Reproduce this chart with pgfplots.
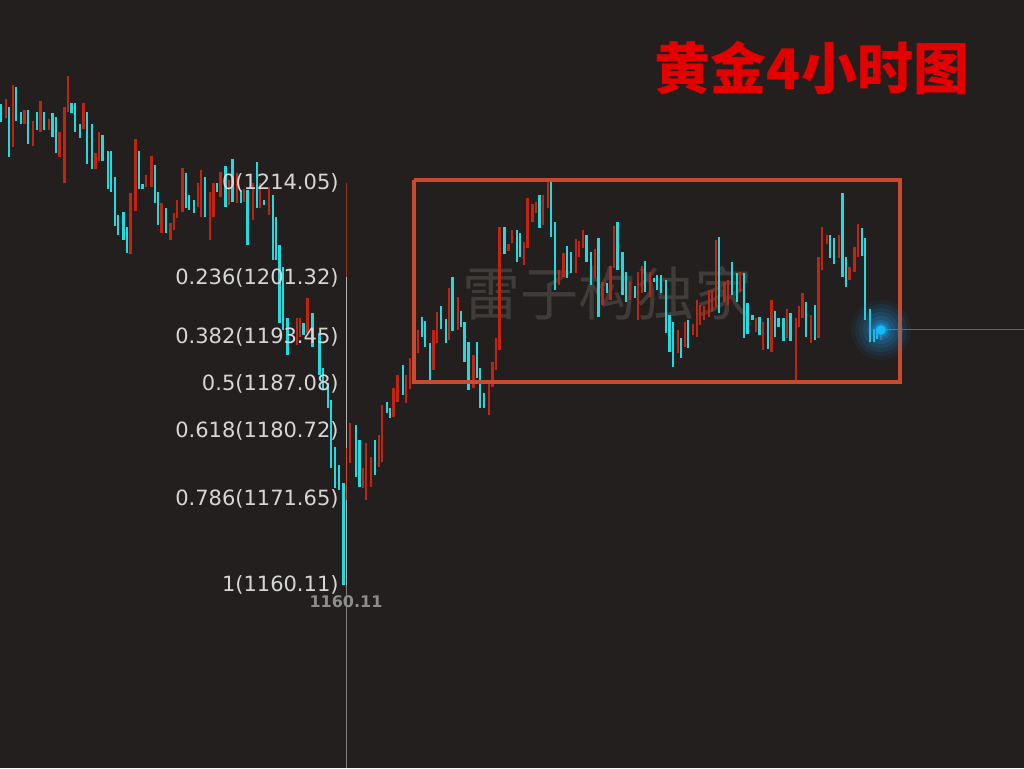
\documentclass[border=0pt]{standalone}
\usepackage{pgfplots}
\pgfplotsset{compat=1.18}
\usepackage{fontspec}
\setmainfont{DejaVu Sans}
\newfontfamily\cjk{Noto Sans CJK SC}
\definecolor{bgc}{HTML}{221F1E}
\definecolor{upbar}{HTML}{C4230F}
\definecolor{dnbar}{HTML}{1FDCE0}
\definecolor{boxc}{HTML}{C94A2E}
\definecolor{fibtxt}{HTML}{D6D6D6}
\definecolor{wmark}{HTML}{403C3A}
\definecolor{glow}{HTML}{1A9FF0}

\begin{document}
\begin{tikzpicture}
\begin{axis}[
    width=512pt, height=384pt, scale only axis,
    xmin=0, xmax=1024, ymin=1135.55, ymax=1238.61,
    hide axis,
    unbounded coords=jump,
    bar/.style={line width=1.2pt},
]
% background
\fill[bgc] (rel axis cs:0,0) rectangle (rel axis cs:1,1);

% watermark
\node[text=wmark, font=\cjk\fontsize{29}{29}\selectfont] at (axis cs:607,1199.3) {雷子构独家};

% fibonacci vertical line
\addplot[draw=black!50, line width=0.8pt] coordinates {(346.5,1160.11) (346.5,1135.55)};
\addplot[draw=black!30, line width=0.8pt] coordinates {(346.5,1201.44) (346.5,1178.50)};
\addplot[draw=black!30, line width=0.8pt] coordinates {(346.5,1171.52) (346.5,1160.11)};
\addplot[draw=boxc!75!black, line width=0.8pt] coordinates {(346.5,1214.05) (346.5,1201.44)};
\addplot[draw=boxc, line width=0.8pt] coordinates {(346.5,1178.50) (346.5,1171.52)};

% last price line
\addplot[draw=black!60, line width=0.5pt] coordinates {(884,1194.33) (1024,1194.33)};

% down bars (cyan)
\addplot[draw=dnbar, bar] coordinates {
(0.7,1222.19)(0.7,1224.61)(0.7,nan)
(9,1217.57)(9,1224.28)(9,nan)
(16,1222.40)(16,1226.97)(16,nan)
(21,1221.96)(21,1223.61)(21,nan)
(28,1219.28)(28,1223.84)(28,nan)
(36.7,1221.16)(36.7,1223.61)(36.7,nan)
(43.7,1221.16)(43.7,1223.61)(43.7,nan)
(52.3,1220.26)(52.3,1223.40)(52.3,nan)
(55.7,1218.03)(55.7,1222.86)(55.7,nan)
(71.3,1223.40)(71.3,1224.82)(71.3,nan)
(74.7,1220.93)(74.7,1224.82)(74.7,nan)
(80,1220.04)(80,1221.92)(80,nan)
(87,1216.59)(87,1223.61)(87,nan)
(92,1215.88)(92,1221.96)(92,nan)
(102.3,1217.04)(102.3,1220.49)(102.3,nan)
(107.7,1213.24)(107.7,1218.34)(107.7,nan)
(111,1212.88)(111,1218.34)(111,nan)
(114.7,1208.32)(114.7,1214.89)(114.7,nan)
(118,1207.07)(118,1209.75)(118,nan)
(123.3,1206.40)(123.3,1210.19)(123.3,nan)
(126.7,1204.69)(126.7,1208.10)(126.7,nan)
(139,1213.24)(139,1218.34)(139,nan)
(142.3,1213.24)(142.3,1213.91)(142.3,nan)
(154.7,1211.32)(154.7,1216.46)(154.7,nan)
(158,1208.41)(158,1212.88)(158,nan)
(166,1207.38)(166,1210.65)(166,nan)
(185.7,1210.65)(185.7,1215.35)(185.7,nan)
(189,1210.42)(189,1212.44)(189,nan)
(194,1209.98)(194,1211.76)(194,nan)
(204.7,1209.52)(204.7,1214.81)(204.7,nan)
(217,1212.88)(217,1214.01)(217,nan)
(225.3,1210.87)(225.3,1216.33)(225.3,nan)
(232.3,1211.54)(232.3,1217.23)(232.3,nan)
(240.7,1211.32)(240.7,1213.11)(240.7,nan)
(247.3,1205.73)(247.3,1213.11)(247.3,nan)
(256.7,1210.65)(256.7,1216.90)(256.7,nan)
(264,1211.09)(264,1211.76)(264,nan)
(272.7,1203.71)(272.7,1212.44)(272.7,nan)
(276,1203.71)(276,1209.52)(276,nan)
(279.3,1195.22)(279.3,1205.73)(279.3,nan)
(283,1194.32)(283,1202.81)(283,nan)
(287.5,1190.97)(287.5,1195.93)(287.5,nan)
(303.3,1193.65)(303.3,1195.22)(303.3,nan)
(312.3,1192.08)(312.3,1196.56)(312.3,nan)
(319.3,1188.28)(319.3,1193.88)(319.3,nan)
(322.7,1186.27)(322.7,1189.18)(322.7,nan)
(327.7,1183.81)(327.7,1187.17)(327.7,nan)
(331,1175.76)(331,1184.93)(331,nan)
(335,1173.08)(335,1178.66)(335,nan)
(338.7,1172.85)(338.7,1176.21)(338.7,nan)
(343.3,1160.11)(343.3,1173.75)(343.3,nan)
(356,1174.64)(356,1181.57)(356,nan)
(359.3,1173.30)(359.3,1179.56)(359.3,nan)
(374.7,1174.86)(374.7,1179.56)(374.7,nan)
(386.7,1183.14)(386.7,1184.70)(386.7,nan)
(390,1182.47)(390,1183.81)(390,nan)
(402.7,1185.60)(402.7,1189.62)(402.7,nan)
(421.7,1193.42)(421.7,1196.11)(421.7,nan)
(425,1192.08)(425,1195.57)(425,nan)
(430,1187.38)(430,1192.54)(430,nan)
(440.7,1194.46)(440.7,1197.54)(440.7,nan)
(445.7,1192.54)(445.7,1195.80)(445.7,nan)
(452.3,1194.19)(452.3,1201.47)(452.3,nan)
(461,1194.76)(461,1196.87)(461,nan)
(464.3,1190.07)(464.3,1195.35)(464.3,nan)
(468.3,1186.27)(468.3,1192.75)(468.3,nan)
(476.7,1187.84)(476.7,1192.75)(476.7,nan)
(480,1183.81)(480,1189.18)(480,nan)
(484,1183.81)(484,1185.83)(484,nan)
(504.3,1204.48)(504.3,1208.18)(504.3,nan)
(516.7,1203.49)(516.7,1207.74)(516.7,nan)
(520,1204.16)(520,1207.30)(520,nan)
(539.3,1208.05)(539.3,1212.44)(539.3,nan)
(551,1206.84)(551,1214.14)(551,nan)
(555,1199.69)(555,1208.77)(555,nan)
(566.7,1201.26)(566.7,1205.63)(566.7,nan)
(570.7,1201.93)(570.7,1204.83)(570.7,nan)
(586.3,1203.49)(586.3,1207.07)(586.3,nan)
(591,1200.36)(591,1204.83)(591,nan)
(598.3,1196.11)(598.3,1206.63)(598.3,nan)
(606.7,1199.25)(606.7,1200.59)(606.7,nan)
(617.3,1202.37)(617.3,1208.77)(617.3,nan)
(622.3,1199.02)(622.3,1204.83)(622.3,nan)
(626,1198.12)(626,1202.14)(626,nan)
(634.7,1198.65)(634.7,1200.23)(634.7,nan)
(645,1199.46)(645,1203.62)(645,nan)
(653.7,1200.80)(653.7,1201.26)(653.7,nan)
(657,1199.69)(657,1201.70)(657,nan)
(660.7,1199.25)(660.7,1201.70)(660.7,nan)
(665.7,1193.88)(665.7,1201.03)(665.7,nan)
(669.3,1191.41)(669.3,1196.33)(669.3,nan)
(672.7,1189.40)(672.7,1195.43)(672.7,nan)
(681,1190.60)(681,1193.21)(681,nan)
(688,1191.87)(688,1195.66)(688,nan)
(719,1196.67)(719,1206.84)(719,nan)
(731.7,1199.02)(731.7,1203.40)(731.7,nan)
(736.7,1198.12)(736.7,1201.93)(736.7,nan)
(743.7,1193.21)(743.7,1201.93)(743.7,nan)
(747.3,1193.74)(747.3,1197.90)(747.3,nan)
(752.3,1195.66)(752.3,1196.33)(752.3,nan)
(759.3,1193.65)(759.3,1196.11)(759.3,nan)
(767.7,1191.73)(767.7,1195.89)(767.7,nan)
(774.7,1193.42)(774.7,1196.87)(774.7,nan)
(778.3,1194.76)(778.3,1195.89)(778.3,nan)
(783.3,1192.85)(783.3,1195.97)(783.3,nan)
(790.3,1192.85)(790.3,1196.56)(790.3,nan)
(806,1193.42)(806,1198.12)(806,nan)
(814.7,1192.98)(814.7,1197.68)(814.7,nan)
(830,1204.02)(830,1207.07)(830,nan)
(833.7,1203.14)(833.7,1206.63)(833.7,nan)
(842.3,1201.47)(842.3,1212.66)(842.3,nan)
(846,1200.13)(846,1204.16)(846,nan)
(861.7,1204.29)(861.7,1208.05)(861.7,nan)
(865,1195.66)(865,1206.63)(865,nan)
(870,1192.75)(870,1197.14)(870,nan)
(873.7,1192.75)(873.7,1194.46)(873.7,nan)
(877,1193.11)(877,1194.63)
};

% up bars (red)
\addplot[draw=upbar, bar] coordinates {
(5.7,1222.73)(5.7,1225.28)(5.7,nan)
(12.7,1218.84)(12.7,1227.19)(12.7,nan)
(24.3,1221.96)(24.3,1223.84)(24.3,nan)
(33,1219.05)(33,1222.36)(33,nan)
(40.3,1220.93)(40.3,1225.05)(40.3,nan)
(49,1221.16)(49,1222.63)(49,nan)
(59.3,1217.57)(59.3,1220.93)(59.3,nan)
(64.3,1214.01)(64.3,1224.28)(64.3,nan)
(68,1223.61)(68,1228.44)(68,nan)
(83.3,1221.25)(83.3,1224.82)(83.3,nan)
(95.3,1215.88)(95.3,1218.03)(95.3,nan)
(99,1217.04)(99,1220.93)(99,nan)
(130.3,1204.48)(130.3,1212.66)(130.3,nan)
(135.3,1210.33)(135.3,1219.95)(135.3,nan)
(145.7,1213.55)(145.7,1215.12)(145.7,nan)
(151.3,1213.55)(151.3,1217.71)(151.3,nan)
(161.3,1207.38)(161.3,1211.40)(161.3,nan)
(170.3,1206.40)(170.3,1208.72)(170.3,nan)
(173.7,1207.74)(173.7,1209.98)(173.7,nan)
(177,1209.31)(177,1211.76)(177,nan)
(182.3,1210.19)(182.3,1216.02)(182.3,nan)
(197.7,1210.87)(197.7,1214.01)(197.7,nan)
(201,1209.52)(201,1215.79)(201,nan)
(210,1206.40)(210,1212.88)(210,nan)
(213.3,1209.52)(213.3,1214.01)(213.3,nan)
(220.3,1212.21)(220.3,1215.56)(220.3,nan)
(228.7,1211.09)(228.7,1214.45)(228.7,nan)
(236.7,1211.32)(236.7,1215.35)(236.7,nan)
(244,1211.54)(244,1213.20)(244,nan)
(252.7,1209.08)(252.7,1214.01)(252.7,nan)
(260,1210.65)(260,1214.01)(260,nan)
(269,1209.75)(269,1213.55)(269,nan)
(296.7,1192.31)(296.7,1195.89)(296.7,nan)
(300,1193.42)(300,1195.89)(300,nan)
(307.3,1193.88)(307.3,1198.57)(307.3,nan)
(350,1176.43)(350,1181.80)(350,nan)
(362.7,1173.08)(362.7,1175.76)(362.7,nan)
(366,1171.51)(366,1179.12)(366,nan)
(370.7,1173.30)(370.7,1177.32)(370.7,nan)
(378.7,1175.98)(378.7,1180.23)(378.7,nan)
(381.7,1176.65)(381.7,1184.26)(381.7,nan)
(393.3,1182.69)(393.3,1186.50)(393.3,nan)
(397.3,1184.70)(397.3,1188.28)(397.3,nan)
(406,1184.49)(406,1188.28)(406,nan)
(410,1186.40)(410,1190.56)(410,nan)
(414,1187.88)(414,1190.97)(414,nan)
(417.7,1191.23)(417.7,1194.32)(417.7,nan)
(433.3,1188.95)(433.3,1194.32)(433.3,nan)
(436.7,1192.54)(436.7,1196.78)(436.7,nan)
(449,1192.98)(449,1199.92)(449,nan)
(457.7,1194.32)(457.7,1198.79)(457.7,nan)
(473.3,1186.50)(473.3,1190.97)(473.3,nan)
(489,1182.92)(489,1187.61)(489,nan)
(492.3,1186.71)(492.3,1190.07)(492.3,nan)
(495.7,1188.95)(495.7,1193.21)(495.7,nan)
(499.3,1191.64)(499.3,1208.18)(499.3,nan)
(508.3,1204.92)(508.3,1205.82)(508.3,nan)
(511.7,1205.95)(511.7,1207.74)(511.7,nan)
(524,1203.04)(524,1206.17)(524,nan)
(527.3,1205.28)(527.3,1212.07)(527.3,nan)
(532.3,1208.85)(532.3,1211.19)(532.3,nan)
(536,1209.98)(536,1211.46)(536,nan)
(542.7,1208.41)(542.7,1212.44)(542.7,nan)
(547.7,1210.65)(547.7,1214.14)(547.7,nan)
(558.7,1200.36)(558.7,1202.37)(558.7,nan)
(563.3,1201.47)(563.3,1204.61)(563.3,nan)
(575.7,1201.93)(575.7,1206.53)(575.7,nan)
(579,1204.16)(579,1206.30)(579,nan)
(582.7,1205.28)(582.7,1207.74)(582.7,nan)
(594.7,1201.26)(594.7,1205.19)(594.7,nan)
(602.3,1197.68)(602.3,1200.80)(602.3,nan)
(610.3,1198.35)(610.3,1202.95)(610.3,nan)
(613.7,1202.60)(613.7,1208.32)(613.7,nan)
(629.7,1198.35)(629.7,1200.80)(629.7,nan)
(638,1195.66)(638,1202.14)(638,nan)
(641.7,1199.25)(641.7,1202.95)(641.7,nan)
(650,1198.79)(650,1202.14)(650,nan)
(677.7,1191.19)(677.7,1194.32)(677.7,nan)
(684.7,1192.08)(684.7,1195.43)(684.7,nan)
(693,1193.65)(693,1195.09)(693,nan)
(696.7,1193.42)(696.7,1198.35)(696.7,nan)
(700,1194.99)(700,1197.68)(700,nan)
(703.7,1195.66)(703.7,1197.54)(703.7,nan)
(708.7,1196.11)(708.7,1199.69)(708.7,nan)
(712,1196.74)(712,1199.69)(712,nan)
(715.7,1197.45)(715.7,1206.40)(715.7,nan)
(724.3,1198.12)(724.3,1200.80)(724.3,nan)
(727.7,1197.68)(727.7,1201.03)(727.7,nan)
(740,1199.38)(740,1202.14)(740,nan)
(755.7,1194.09)(755.7,1195.89)(755.7,nan)
(762.7,1191.64)(762.7,1195.43)(762.7,nan)
(771.3,1191.41)(771.3,1198.35)(771.3,nan)
(787,1193.21)(787,1197.14)(787,nan)
(795.7,1187.61)(795.7,1195.89)(795.7,nan)
(799,1194.76)(799,1197.58)(799,nan)
(802.3,1195.89)(802.3,1199.25)(802.3,nan)
(811,1192.54)(811,1196.33)(811,nan)
(818.3,1193.21)(818.3,1204.16)(818.3,nan)
(821.7,1202.37)(821.7,1208.18)(821.7,nan)
(826.7,1205.82)(826.7,1207.07)(826.7,nan)
(838.7,1203.94)(838.7,1207.07)(838.7,nan)
(849.3,1201.03)(849.3,1202.81)(849.3,nan)
(854.3,1202.14)(854.3,1205.50)(854.3,nan)
(857.7,1204.16)(857.7,1208.50)(857.7,nan)
(880.7,1192.98)(880.7,1194.99)
};

% consolidation box
\addplot[draw=boxc, line width=1.6pt] coordinates {
(414,1214.45) (900,1214.45) (900,1187.35) (414,1187.35) (414,1214.45)};

% glowing last-price dot (soft halo built from stacked translucent marks)
\addplot[only marks, mark=*, mark size=15pt, glow, draw opacity=0, fill opacity=0.06] coordinates {(881,1194.33)};
\addplot[only marks, mark=*, mark size=13pt, glow, draw opacity=0, fill opacity=0.08] coordinates {(881,1194.33)};
\addplot[only marks, mark=*, mark size=11pt, glow, draw opacity=0, fill opacity=0.1] coordinates {(881,1194.33)};
\addplot[only marks, mark=*, mark size=9pt, glow, draw opacity=0, fill opacity=0.12] coordinates {(881,1194.33)};
\addplot[only marks, mark=*, mark size=7pt, glow, draw opacity=0, fill opacity=0.16] coordinates {(881,1194.33)};
\addplot[only marks, mark=*, mark size=5pt, glow, draw opacity=0, fill opacity=0.25] coordinates {(881,1194.33)};
\addplot[only marks, mark=*, mark size=3.5pt, glow, draw opacity=0, fill opacity=0.45] coordinates {(881,1194.33)};
\addplot[only marks, mark=*, mark size=2.4pt, glow!70!cyan, draw opacity=0] coordinates {(881,1194.33)};

% fibonacci labels
\begin{scope}[every node/.style={anchor=east, text=fibtxt, font=\fontsize{10.5}{12}\selectfont, inner sep=0pt}]
\node at (axis cs:339,1214.05) {0(1214.05)};
\node at (axis cs:339,1201.32) {0.236(1201.32)};
\node at (axis cs:339,1193.45) {0.382(1193.45)};
\node at (axis cs:339,1187.08) {0.5(1187.08)};
\node at (axis cs:339,1180.72) {0.618(1180.72)};
\node at (axis cs:339,1171.65) {0.786(1171.65)};
\node at (axis cs:339,1160.11) {1(1160.11)};
\end{scope}
\node[text=black!45, font=\fontsize{8}{9}\selectfont\bfseries, inner sep=0pt] at (axis cs:346,1157.9) {1160.11};

% title
\node[text=red!90!black, font=\cjk\bfseries\fontsize{28}{30}\selectfont, inner sep=0pt] at (axis cs:812,1229.5) {黄金4小时图};
\end{axis}
\end{tikzpicture}
\end{document}
